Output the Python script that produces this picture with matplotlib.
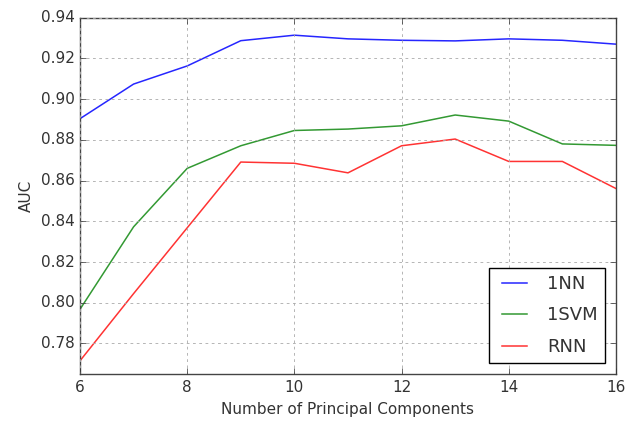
import numpy as np
import matplotlib
matplotlib.use("Agg")
import matplotlib.pyplot as plt

plt.style.use('classic')
plt.rcParams['text.color'] = '#333333'
plt.rcParams['axes.labelcolor'] = '#333333'
plt.rcParams['xtick.color'] = '#333333'
plt.rcParams['ytick.color'] = '#333333'

components = [6, 7, 8, 9, 10, 11, 12, 13, 14, 15, 16]
auc_1nn = [0.8904, 0.9074, 0.9163, 0.9287, 0.9314, 0.9296, 0.9289, 0.9286, 0.9296, 0.9289, 0.9270]
auc_1svm = [0.7968, 0.8373, 0.8660, 0.8771, 0.8846, 0.8853, 0.8869, 0.8922, 0.8892, 0.8780, 0.8773]
auc_rnn = [0.7715, 0.8045, 0.8368, 0.8691, 0.8685, 0.8638, 0.8771, 0.8804, 0.8694, 0.8694, 0.8561]

fig = plt.figure(figsize=(6.32, 4.21), dpi=100, facecolor='white')
ax = fig.add_axes([0.1266, 0.1116, 0.848, 0.8464])

ax.plot(components, auc_1nn, color='#0000ff', lw=1.1, alpha=0.85, label='1NN')
ax.plot(components, auc_1svm, color='#008000', lw=1.1, alpha=0.8, label='1SVM')
ax.plot(components, auc_rnn, color='#ff0000', lw=1.1, alpha=0.8, label='RNN')

ax.set_xlim(6, 16)
ax.set_ylim(0.765, 0.94)
ax.set_yticks(np.arange(0.78, 0.941, 0.02))
ax.grid(True, color='#aaaaaa', linestyle=(0, (2, 2.5)), linewidth=0.6)
ax.tick_params(labelsize=11)
for s in ax.spines.values():
    s.set_color('#444444')
ax.set_xlabel('Number of Principal Components', fontsize=11)
ax.set_ylabel('AUC', fontsize=11)
leg = ax.legend(loc='lower right', fontsize=13, labelspacing=0.75,
                borderaxespad=0.6)
leg.get_frame().set_edgecolor('black')

fig.savefig('out.png', dpi=100, facecolor='white')
